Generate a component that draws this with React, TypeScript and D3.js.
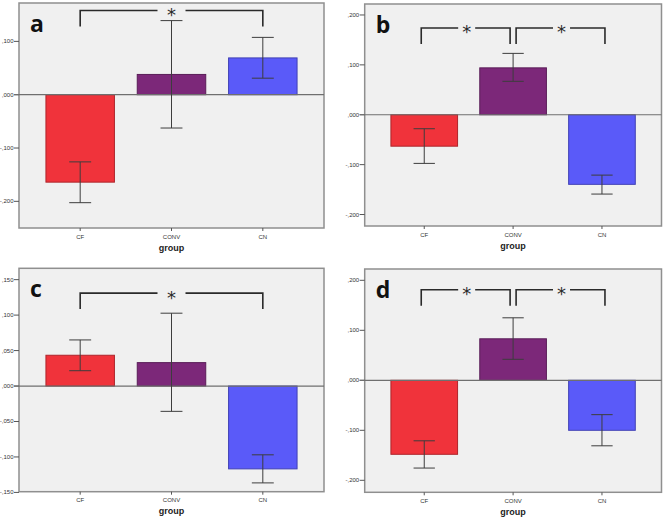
import React from "react";
import * as d3 from "d3";

const categories = ["CF", "CONV", "CN"];
const barColors = ["#F0333B", "#7C2879", "#5A5AF9"];
const axisTitle = "group";

// Panel a
const meanA = [-0.164, 0.038, 0.069];
const lowA = [-0.2025, -0.0625, 0.031];
const highA = [-0.126, 0.139, 0.1075];
const ticksA = [0.1, 0, -0.1, -0.2];
const domainA = [-0.25, 0.172];
const bracketsA = [[0, 2]];
const bracketLevelsA = [0.158];

// Panel b
const meanB = [-0.063, 0.094, -0.1395];
const lowB = [-0.0975, 0.067, -0.159];
const highB = [-0.028, 0.123, -0.121];
const ticksB = [0.2, 0.1, 0, -0.1, -0.2];
const domainB = [-0.223, 0.222];
const bracketsB = [[0, 1], [1, 2]];
const bracketLevelsB = [0.174, 0.174];

// Panel c
const meanC = [0.0434, 0.033, -0.1168];
const lowC = [0.0216, -0.0357, -0.1366];
const highC = [0.065, 0.1027, -0.097];
const ticksC = [0.15, 0.1, 0.05, 0, -0.05, -0.1, -0.15];
const domainC = [-0.149, 0.166];
const bracketsC = [[0, 2]];
const bracketLevelsC = [0.131];

// Panel d
const meanD = [-0.148, 0.083, -0.1];
const lowD = [-0.1755, 0.042, -0.131];
const highD = [-0.121, 0.125, -0.0687];
const ticksD = [0.2, 0.1, 0, -0.1, -0.2];
const domainD = [-0.224, 0.2226];
const bracketsD = [[0, 1], [1, 2]];
const bracketLevelsD = [0.181, 0.181];

const fmt = (v: number) => v.toFixed(3).replace("0.", ",");

type PanelProps = {
  letter: string;
  frame: { x0: number; x1: number; y0: number; y1: number };
  domain: number[];
  ticks: number[];
  means: number[];
  lows: number[];
  highs: number[];
  brackets: number[][];
  levels: number[];
};

function Panel(p: PanelProps) {
  const { frame } = p;
  const x = d3.scalePoint<string>().domain(categories).range([frame.x0, frame.x1]).padding(0.67);
  const y = d3.scaleLinear().domain(p.domain).range([frame.y1, frame.y0]);
  const step = x.step();
  const bw = step * 0.75;
  const cap = step * 0.24;
  const y0 = y(0);
  const multi = p.brackets.length > 1;
  return (
    <g>
      <rect x={frame.x0} y={frame.y0} width={frame.x1 - frame.x0} height={frame.y1 - frame.y0} fill="#F0F0F0" stroke="#8f8f8f" strokeWidth={1.5} />
      {p.ticks.map((t) => (
        <g key={t}>
          <line x1={frame.x0 - 5} x2={frame.x0} y1={y(t)} y2={y(t)} stroke="#555" strokeWidth={1} />
          <text x={frame.x0 - 5.5} y={y(t) + 2} fontSize={6} textAnchor="end" fill="#333" fontFamily="Liberation Sans, Arial, sans-serif">{fmt(t)}</text>
        </g>
      ))}
      {categories.map((c, i) => {
        const cx = x(c)!;
        const v = p.means[i];
        const col = barColors[i];
        return (
          <g key={c}>
            <rect x={cx - bw / 2} y={Math.min(y(v), y0)} width={bw} height={Math.abs(y(v) - y0)} fill={col} stroke={d3.color(col)!.darker(0.9).formatHex()} strokeWidth={1} />
          </g>
        );
      })}
      <line x1={frame.x0 - 5} x2={frame.x1} y1={y0} y2={y0} stroke="#6f6f6f" strokeWidth={1.2} />
      {categories.map((c, i) => {
        const cx = x(c)!;
        const yl = y(p.lows[i]);
        const yh = y(p.highs[i]);
        return (
          <g key={c + "e"} stroke="#3d3d3d" strokeWidth={1}>
            <line x1={cx} x2={cx} y1={yl} y2={yh} />
            <line x1={cx - cap / 2} x2={cx + cap / 2} y1={yl} y2={yl} />
            <line x1={cx - cap / 2} x2={cx + cap / 2} y1={yh} y2={yh} />
          </g>
        );
      })}
      {categories.map((c) => (
        <g key={c + "l"}>
          <line x1={x(c)!} x2={x(c)!} y1={frame.y1} y2={frame.y1 + 3} stroke="#555" strokeWidth={1} />
          <text x={x(c)!} y={frame.y1 + 10.7} fontSize={6} textAnchor="middle" fill="#333" fontFamily="Liberation Sans, Arial, sans-serif">{c}</text>
        </g>
      ))}
      <text x={x(categories[1])!} y={frame.y1 + 22.7} fontSize={9} fontWeight="bold" textAnchor="middle" fill="#222" fontFamily="Liberation Sans, Arial, sans-serif">{axisTitle}</text>
      {p.brackets.map((b, k) => {
        const shift = multi ? (k === 0 ? -3 : 3) : 0;
        const xa = x(categories[b[0]])! + shift;
        const xb = x(categories[b[1]])! + shift;
        const yb = y(p.levels[k]);
        const drop = 16;
        const mid = (xa + xb) / 2 + (multi ? 1 : 0);
        const half = b[1] - b[0] > 1 ? 14 : 8.5;
        return (
          <g key={k}>
            <path d={`M${xa},${yb + drop}V${yb}H${mid - half}M${mid + half},${yb}H${xb}V${yb + drop}`} fill="none" stroke="#2a2a2a" strokeWidth={1.6} />
            <text x={mid} y={yb + 10.5} fontSize={18} textAnchor="middle" fill="#2a2a2a" fontFamily="DejaVu Sans, sans-serif">*</text>
          </g>
        );
      })}
      <text x={frame.x0 + 11} y={frame.y0 + 28.5} fontSize={23} fontWeight="bold" fill="#111" fontFamily="Open Sans, sans-serif">{p.letter}</text>
    </g>
  );
}

export default function App() {
  return (
    <svg width={664} height={519} style={{ position: "absolute", left: 0, top: 0, background: "#fff" }}>
      <rect width={664} height={519} fill="#fff" />
      <Panel letter="a" frame={{ x0: 19, x1: 324, y0: 3, y1: 228 }} domain={domainA} ticks={ticksA} means={meanA} lows={lowA} highs={highA} brackets={bracketsA} levels={bracketLevelsA} />
      <Panel letter="b" frame={{ x0: 364.7, x1: 661.5, y0: 4, y1: 226 }} domain={domainB} ticks={ticksB} means={meanB} lows={lowB} highs={highB} brackets={bracketsB} levels={bracketLevelsB} />
      <Panel letter="c" frame={{ x0: 19, x1: 324, y0: 268.3, y1: 491.7 }} domain={domainC} ticks={ticksC} means={meanC} lows={lowC} highs={highC} brackets={bracketsC} levels={bracketLevelsC} />
      <Panel letter="d" frame={{ x0: 364.7, x1: 661.5, y0: 269, y1: 492.3 }} domain={domainD} ticks={ticksD} means={meanD} lows={lowD} highs={highD} brackets={bracketsD} levels={bracketLevelsD} />
    </svg>
  );
}
